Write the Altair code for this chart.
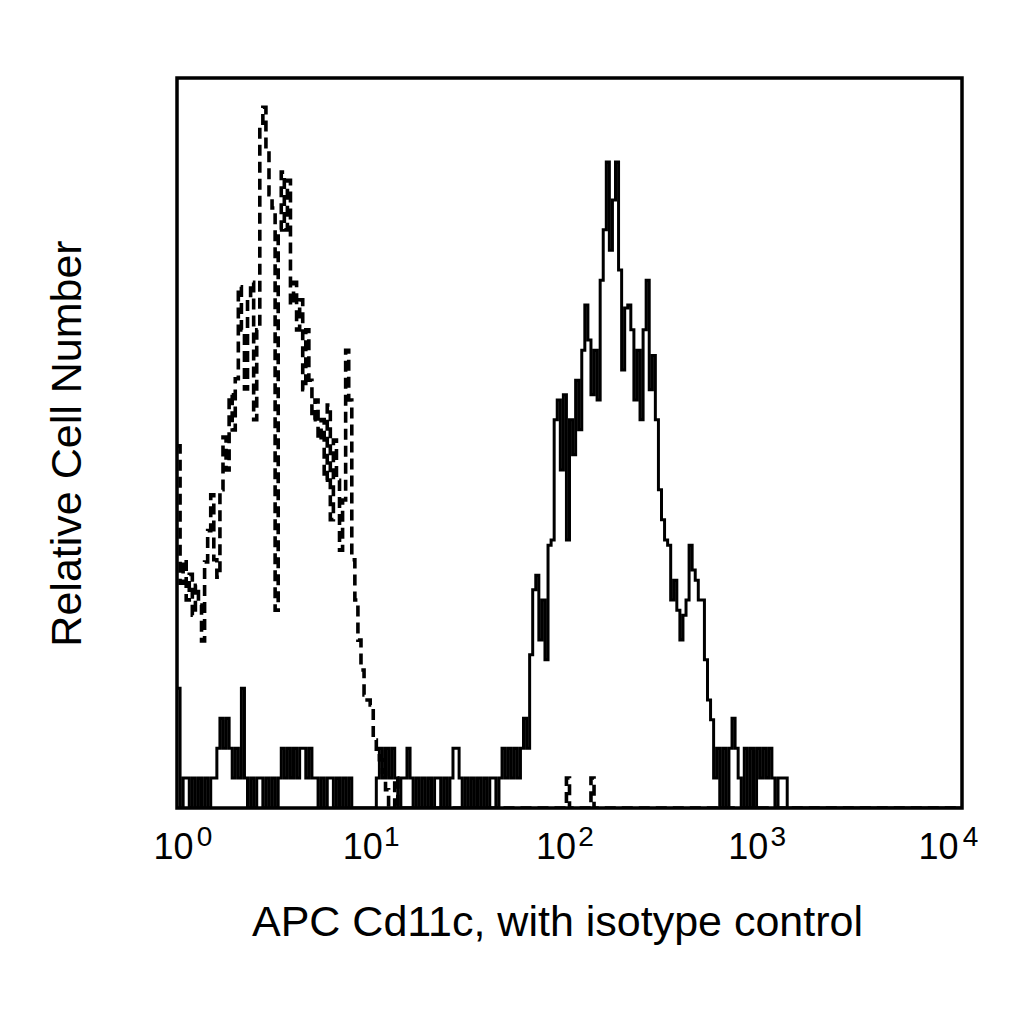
import altair as alt
import pandas as pd

N_CHANNELS = 256
DECADES = 4

# Stained sample (solid line), channels 0-109: sparse background events
stained_low = [
    16.4, 0, 4.1, 4.1, 0, 4.1, 0, 4.1, 0, 4.1,
    0, 4.1, 4.1, 8.2, 12.3, 8.2, 12.3, 8.2, 4.1, 8.2,
    4.1, 16.4, 4.1, 0, 4.1, 0, 4.1, 4.1, 0, 4.1,
    0, 4.1, 0, 4.1, 8.2, 4.1, 8.2, 4.1, 8.2, 4.1,
    8.2, 8.2, 4.1, 8.2, 4.1, 4.1, 0, 4.1, 0, 4.1,
    4.1, 0, 4.1, 0, 4.1, 0, 4.1, 0, 0, 0,
    0, 0, 0, 0, 0, 4.1, 8.2, 4.1, 8.2, 4.1,
    8.2, 4.1, 0, 4.1, 4.1, 8.2, 4.1, 0, 4.1, 0,
    4.1, 0, 4.1, 0, 4.1, 4.1, 0, 4.1, 0, 4.1,
    8.2, 8.2, 4.1, 0, 4.1, 0, 4.1, 0, 4.1, 0,
    4.1, 0, 4.1, 4.1, 0, 4.1, 8.2, 4.1, 8.2, 4.1,
]
# Stained sample, channels 110-199: positive population
stained_peak = [
    8.2, 4.1, 8.2, 12.3, 8.2, 21.0, 29.9, 31.9, 23.0, 28.5,
    20.3, 36.0, 36.7, 53.2, 55.9, 46.3, 56.6, 36.7, 53.2, 48.4,
    58.6, 51.8, 62.7, 68.9, 64.1, 56.6, 62.7, 55.9, 72.3, 79.2,
    88.5, 76.4, 83.3, 88.5, 73.7, 60.0, 68.5, 68.9, 65.5, 55.9,
    62.7, 53.2, 65.5, 72.3, 57.3, 62.0, 53.2, 43.6, 39.5, 36.7,
    36.0, 28.5, 31.2, 27.1, 23.0, 26.4, 28.5, 36.0, 32.6, 31.2,
    28.5, 28.5, 20.3, 14.8, 12.1, 4.1, 8.2, 0, 8.2, 0,
    8.2, 12.3, 8.2, 4.1, 0, 8.2, 0, 8.2, 0, 8.2,
    4.1, 8.2, 4.1, 8.2, 4.1, 0, 4.1, 4.1, 4.1, 0,
]
# Isotype control (dashed line), channels 0-68
isotype_main = [
    49.6, 30.8, 34.0, 28.5, 32.0, 26.4, 30.5, 27.8, 22.9, 33.7,
    38.0, 42.9, 34.0, 31.6, 43.6, 50.8, 46.3, 56.6, 51.8, 58.8,
    71.4, 65.5, 57.4, 69.6, 72.0, 53.2, 65.5, 93.2, 96.0, 90.1,
    84.0, 82.2, 27.1, 79.2, 87.1, 79.2, 86.0, 68.9, 72.0, 65.5,
    69.6, 57.3, 65.5, 58.6, 53.2, 55.9, 50.4, 53.2, 44.9, 55.2,
    39.5, 50.4, 44.9, 35.3, 42.2, 62.7, 55.9, 34.0, 28.5, 23.0,
    18.9, 15.5, 14.8, 14.1, 9.3, 7.7, 6.6, 4.9, 2.5,
]
# Isotype control, isolated events further right
isotype_blip_channels = [71, 127, 135]
isotype_blip_counts = [4.1, 4.1, 4.1]

# Axis decades and their exponent text
decade_values = [1, 10, 100, 1000, 10000]
decade_exponents = ["0", "1", "2", "3", "4"]

stained = stained_low + stained_peak
stained = stained + [0] * (N_CHANNELS - len(stained))
isotype = isotype_main + [0] * (N_CHANNELS - len(isotype_main))
for ch, c in zip(isotype_blip_channels, isotype_blip_counts):
    isotype[ch] = c

rows = []
for name, counts in [("stained", stained), ("isotype", isotype)]:
    for i, c in enumerate(counts + [0]):
        rows.append({"fl": 10 ** (i * DECADES / N_CHANNELS), "count": c, "series": name})
df = pd.DataFrame(rows)
ticks_df = pd.DataFrame({"fl": decade_values, "exp": decade_exponents})

FONT = "Liberation Sans"
XSCALE = alt.Scale(type="log", domain=[1, 10000])


def offset_cond(offsets, default):
    return {
        "condition": [
            {"test": f"datum.value == {v}", "value": o}
            for v, o in zip(decade_values, offsets)
        ],
        "value": default,
    }


exp_map = "{" + ",".join(f"'{v}':'{e}'" for v, e in zip(decade_values, decade_exponents)) + "}"

lines = alt.Chart(df).mark_line(
    interpolate="step-after", color="black", clip=True
).encode(
    x=alt.X(
        "fl:Q",
        scale=XSCALE,
        axis=alt.Axis(
            orient="bottom",
            values=decade_values,
            labelExpr="'10'",
            ticks=False, domain=False, grid=False,
            labelFont=FONT, labelFontSize=36, labelColor="black",
            labelPadding=22, labelFlush=False,
            labelOffset=offset_cond([-4, -11, -14, -18, -24], 0),
            title="APC Cd11c, with isotype control",
            titleFont=FONT, titleFontSize=43, titleFontWeight="normal",
            titleColor="black", titlePadding=36, titleX=380,
        ),
    ),
    y=alt.Y(
        "count:Q",
        scale=alt.Scale(domain=[0, 100], nice=False),
        axis=alt.Axis(
            labels=False, ticks=False, domain=False, grid=False,
            title="Relative Cell Number",
            titleFont=FONT, titleFontSize=43, titleFontWeight="normal",
            titleColor="black", titlePadding=88,
        ),
    ),
    strokeDash=alt.StrokeDash(
        "series:N",
        scale=alt.Scale(domain=["stained", "isotype"], range=[[1, 0], [11, 6]]),
        legend=None,
    ),
    strokeWidth=alt.StrokeWidth(
        "series:N",
        scale=alt.Scale(domain=["stained", "isotype"], range=[3.0, 3.6]),
        legend=None,
    ),
    detail="series:N",
)

exponents = alt.Chart(ticks_df).mark_point(opacity=0).encode(
    x=alt.X(
        "fl:Q",
        scale=XSCALE,
        axis=alt.Axis(
            orient="bottom",
            values=decade_values,
            labelExpr=exp_map + "[datum.value + '']",
            ticks=False, domain=False, grid=False,
            labelFont=FONT, labelFontSize=28, labelColor="black",
            labelPadding=15, labelFlush=False,
            labelOffset=offset_cond([27, 18, 16, 12, 8], 0),
            title="",
        ),
    ),
)

chart = alt.layer(lines, exponents).resolve_axis(x="independent").properties(
    width=785,
    height=730,
    autosize=alt.AutoSizeParams(type="none"),
    padding={"left": 169, "top": 70, "right": 40, "bottom": 190},
    background="white",
).configure_view(stroke="black", strokeWidth=3.5)

chart.save("out.html", embed_options={"renderer": "svg", "actions": False})
